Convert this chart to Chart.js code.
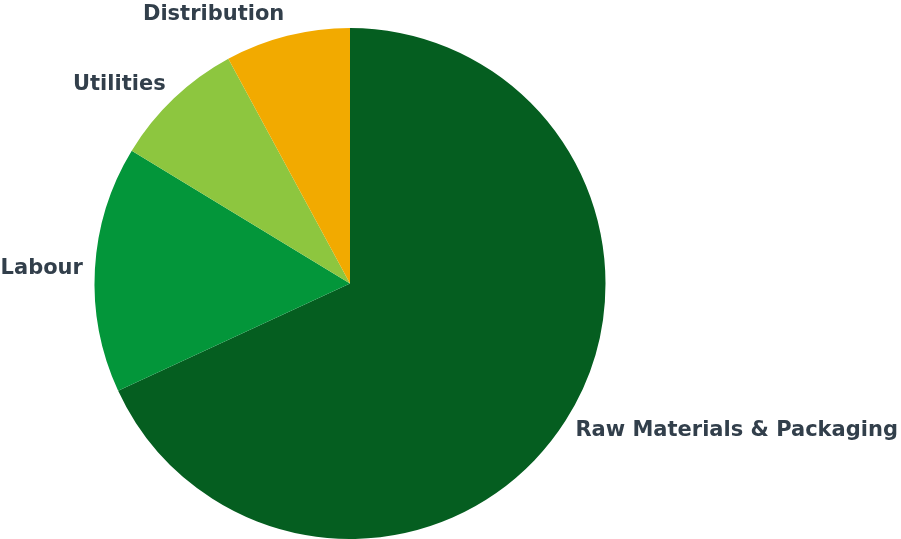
<!DOCTYPE html>
<html>
<head>
<meta charset="utf-8">
<script src="https://cdn.jsdelivr.net/npm/chart.js@4.4.1/dist/chart.umd.min.js"></script>
<style>
    html, body { margin: 0; padding: 0; background: #fff; }
    #wrap { width: 901px; height: 539px; position: relative; }
</style>
</head>
<body>
<div id="wrap"><canvas id="cost-pie"></canvas></div>
<script>
const categories = ["Raw Materials & Packaging", "Labour", "Utilities", "Distribution"];
const shares = [68.1, 15.6, 8.4, 7.9];
const sliceColors = ["#055e20", "#03963a", "#8dc63f", "#f2aa00"];

// labels sit just outside each slice, corner nearest the pie touching the rim
const outsideLabels = {
    id: "outsideLabels",
    afterDatasetsDraw(chart) {
        const ctx = chart.ctx;
        const meta = chart.getDatasetMeta(0);
        ctx.save();
        ctx.font = "bold 21px 'DejaVu Sans'";
        ctx.fillStyle = "#323f4b";
        ctx.textAlign = "center";
        ctx.textBaseline = "middle";
        meta.data.forEach((arc, i) => {
            const p = arc.getProps(["x", "y", "startAngle", "endAngle", "outerRadius"], true);
            const mid = (p.startAngle + p.endAngle) / 2;
            const ux = Math.cos(mid);
            const uy = Math.sin(mid);
            const r = p.outerRadius + 12;
            const w = ctx.measureText(chart.data.labels[i]).width;
            const tx = p.x + r * ux + Math.sign(ux) * w / 2;
            const ty = p.y + r * uy + Math.sign(uy) * 10 * uy * uy;
            ctx.fillText(chart.data.labels[i], tx, ty);
        });
        ctx.restore();
    }
};

new Chart(document.getElementById("cost-pie"), {
    type: "pie",
    data: {
        labels: categories,
        datasets: [{
            data: shares,
            backgroundColor: sliceColors,
            borderWidth: 0
        }]
    },
    options: {
        responsive: true,
        maintainAspectRatio: false,
        animation: false,
        layout: { padding: { top: 28, left: 0, right: 201, bottom: 0 } },
        plugins: {
            legend: { display: false },
            tooltip: { enabled: false }
        }
    },
    plugins: [outsideLabels]
});
</script>
</body>
</html>
